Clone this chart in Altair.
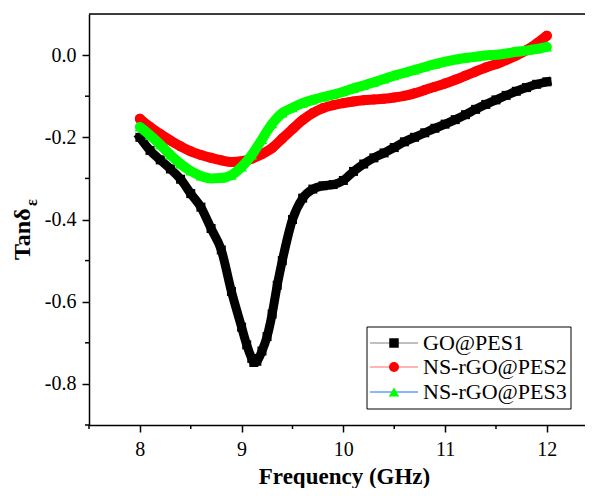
import altair as alt
import pandas as pd

# ---------------- data ----------------
SERIES = ["GO@PES1", "NS-rGO@PES2", "NS-rGO@PES3"]

FREQ_GO = [8.0, 8.1, 8.2, 8.3, 8.4, 8.5, 8.6, 8.7, 8.8, 8.9, 9.0, 9.05, 9.1, 9.12,
           9.15, 9.2, 9.25, 9.3, 9.35, 9.4, 9.5, 9.6, 9.7, 9.8, 9.9, 10.0, 10.1,
           10.2, 10.3, 10.4, 10.5, 10.6, 10.7, 10.8, 10.9, 11.0, 11.1, 11.2, 11.3,
           11.4, 11.5, 11.6, 11.7, 11.8, 11.9, 12.0]
TAN_GO = [-0.200, -0.232, -0.255, -0.277, -0.302, -0.337, -0.370, -0.422, -0.474,
          -0.575, -0.662, -0.705, -0.738, -0.748, -0.745, -0.720, -0.685, -0.630,
          -0.560, -0.500, -0.400, -0.348, -0.326, -0.318, -0.315, -0.305, -0.283,
          -0.265, -0.250, -0.238, -0.225, -0.211, -0.200, -0.189, -0.178, -0.168,
          -0.157, -0.145, -0.132, -0.120, -0.109, -0.098, -0.088, -0.079, -0.071,
          -0.065]

FREQ = [8.0, 8.1, 8.2, 8.3, 8.4, 8.5, 8.6, 8.7, 8.8, 8.9, 9.0, 9.1, 9.2, 9.3, 9.4,
        9.5, 9.6, 9.7, 9.8, 9.9, 10.0, 10.1, 10.2, 10.3, 10.4, 10.5, 10.6, 10.7,
        10.8, 10.9, 11.0, 11.1, 11.2, 11.3, 11.4, 11.5, 11.6, 11.7, 11.8, 11.9, 12.0]
TAN_NS2 = [-0.155, -0.175, -0.192, -0.208, -0.222, -0.234, -0.243, -0.250, -0.256,
           -0.260, -0.258, -0.252, -0.241, -0.226, -0.203, -0.180, -0.158, -0.141,
           -0.129, -0.122, -0.117, -0.113, -0.110, -0.108, -0.106, -0.103, -0.099,
           -0.093, -0.085, -0.077, -0.069, -0.060, -0.050, -0.040, -0.030, -0.022,
           -0.012, -0.001, 0.012, 0.028, 0.047]
TAN_NS3 = [-0.175, -0.195, -0.218, -0.243, -0.265, -0.282, -0.294, -0.300, -0.299,
           -0.292, -0.272, -0.243, -0.205, -0.167, -0.141, -0.128, -0.117, -0.109,
           -0.102, -0.096, -0.089, -0.081, -0.074, -0.066, -0.058, -0.050, -0.043,
           -0.036, -0.029, -0.022, -0.016, -0.011, -0.007, -0.004, -0.001, 0.001,
           0.004, 0.008, 0.011, 0.015, 0.020]

X_TICKS = [8, 9, 10, 11, 12]
X_MINOR = [7.5, 8.5, 9.5, 10.5, 11.5]
Y_TICKS = [0.0, -0.2, -0.4, -0.6, -0.8]
Y_MINOR = [-0.1, -0.3, -0.5, -0.7, -0.9]

COLORS = ["#000000", "#ff0000", "#00ff00"]
LEGEND_LINE = ["#808080", "#ff6a6a", "#1a6cff"]
SHAPES = ["square", "circle", "triangle-up"]

W, H = 496, 411
FONT = "'Liberation Serif', 'Times New Roman', serif"

x_scale = alt.Scale(domain=[7.5, 12.375], nice=False, zero=False)
y_scale = alt.Scale(domain=[-0.9, 0.1], nice=False, zero=False)

x_axis = alt.Axis(values=X_TICKS, format="d", title="Frequency (GHz)",
                  titleFont=FONT, titleFontSize=23, titleFontWeight="bold",
                  titleColor="black", titleBaseline="alphabetic", titleY=58,
                  titleX=255, labelFont=FONT, labelFontSize=20, labelColor="black",
                  labelPadding=7, tickSize=7, tickWidth=1.5, tickColor="black",
                  domainColor="black", domainWidth=1.5, grid=False)
y_axis = alt.Axis(values=Y_TICKS, format=".1f", title=None,
                  labelExpr="replace(datum.label, '\u2212', '-')",
                  labelFont=FONT, labelFontSize=20, labelColor="black",
                  labelPadding=6, tickSize=7, tickWidth=1.5, tickColor="black",
                  domainColor="black", domainWidth=1.5, grid=False)

X_ENC = alt.X("f:Q", scale=x_scale, axis=x_axis)
Y_ENC = alt.Y("v:Q", scale=y_scale, axis=y_axis)

layers = []

# data series: each as a thick line plus markers
series_data = [(FREQ_GO, TAN_GO), (FREQ, TAN_NS2), (FREQ, TAN_NS3)]
widths = [9, 10, 10]
sizes = [81, 100, 110]
for i, (fx, fy) in enumerate(series_data):
    df = pd.DataFrame({"f": fx, "v": fy, "s": SERIES[i]})
    base = alt.Chart(df)
    line = base.mark_line(color=COLORS[i], strokeWidth=widths[i],
                          interpolate="monotone",
                          strokeCap="square" if i == 0 else "round").encode(x=X_ENC, y=Y_ENC)
    pts = base.mark_point(shape=SHAPES[i], filled=True, opacity=1,
                          color=COLORS[i], size=sizes[i]).encode(x=X_ENC, y=Y_ENC)
    layers += [line, pts]

# minor ticks
xm = alt.Chart(pd.DataFrame({"f": X_MINOR})).mark_rule(
    color="black", strokeWidth=1.5).encode(
    x=X_ENC, y=alt.value(H), y2=alt.value(H + 4))
ym = alt.Chart(pd.DataFrame({"v": Y_MINOR})).mark_rule(
    color="black", strokeWidth=1.5).encode(
    y=Y_ENC, x=alt.value(-4), x2=alt.value(0))
top = alt.Chart(pd.DataFrame({"a": [0]})).mark_rule(
    color="black", strokeWidth=1.5).encode(
    x=alt.value(0), x2=alt.value(W), y=alt.value(0))
layers += [xm, ym, top]

# y title with subscript
yt = alt.Chart(pd.DataFrame({"t": ["Tan\u03b4"]})).mark_text(
    font=FONT, fontSize=24, fontWeight="bold", angle=270, align="left",
    baseline="alphabetic", color="black").encode(
    text="t:N", x=alt.value(-59), y=alt.value(246))
ys = alt.Chart(pd.DataFrame({"t": ["\u03b5"]})).mark_text(
    font=FONT, fontSize=16, fontWeight="bold", angle=270, align="left",
    baseline="alphabetic", color="black").encode(
    text="t:N", x=alt.value(-52), y=alt.value(192))
layers += [yt, ys]

# legend
box = alt.Chart(pd.DataFrame({"a": [0]})).mark_rect(
    fill="white", stroke="black", strokeWidth=1).encode(
    x=alt.value(278), x2=alt.value(482), y=alt.value(313), y2=alt.value(395))
layers.append(box)
rows = [329, 353, 378]
for i, name in enumerate(SERIES):
    ld = pd.DataFrame({"name": [name]})
    layers.append(alt.Chart(ld).mark_rule(color=LEGEND_LINE[i], strokeWidth=1).encode(
        x=alt.value(281), x2=alt.value(329), y=alt.value(rows[i])))
    layers.append(alt.Chart(ld).mark_point(shape=SHAPES[i], filled=True, opacity=1,
                                           color=COLORS[i], size=[90, 100, 110][i]).encode(
        x=alt.value(305), y=alt.value(rows[i])))
    layers.append(alt.Chart(ld).mark_text(font=FONT, fontSize=22, align="left",
                                          baseline="middle", color="black").encode(
        text="name:N", x=alt.value(334), y=alt.value(rows[i])))

chart = alt.layer(*layers).properties(
    width=W, height=H,
    padding={"left": 81, "top": 6, "right": 0, "bottom": 63},
    autosize=alt.AutoSizeParams(type="none"),
).configure_view(stroke=None).configure(background="white")

chart.save("out.html", embed_options={"renderer": "svg", "actions": False})
